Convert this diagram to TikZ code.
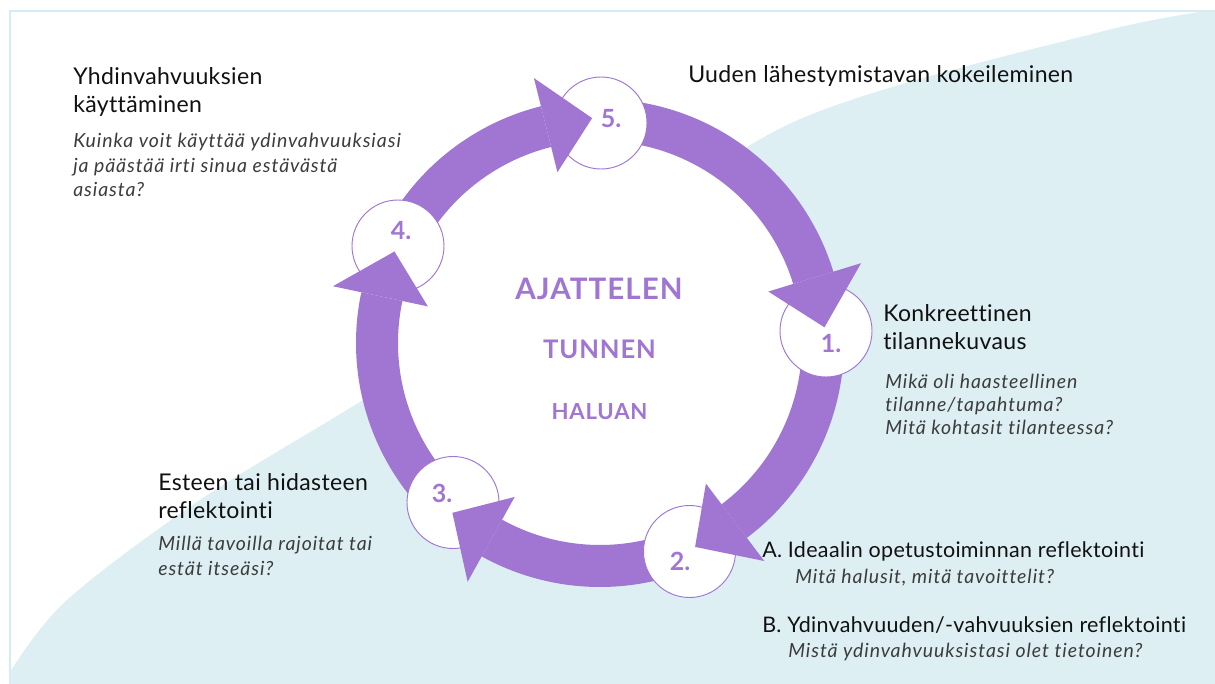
\documentclass[tikz,border=0pt]{standalone}
\usepackage{fontspec}
\setmainfont{Lato}[Ligatures={NoCommon}]
\newfontfamily\headfont{Lato}[LetterSpace=1.5, Ligatures={NoCommon}]
\newfontfamily\quesfont{Lato}[LetterSpace=4.8, Ligatures={NoCommon}]
\newfontfamily\capsfont{Lato}[LetterSpace=3.5, Ligatures={NoCommon}]
\usetikzlibrary{calc}
\definecolor{ringpurple}{RGB}{160,118,210}
\definecolor{bgblue}{RGB}{221,239,243}
\definecolor{framecol}{RGB}{214,236,244}
\definecolor{headcol}{RGB}{17,17,17}
\definecolor{quescol}{RGB}{60,60,60}

\tikzset{
  heading/.style={font=\headfont\fontsize{17.3}{20}\selectfont, text=headcol, anchor=base west, inner sep=0pt},
  itemline/.style={font=\headfont\fontsize{16.1}{18}\selectfont, text=headcol, anchor=base west, inner sep=0pt},
  question/.style={font=\quesfont\fontsize{14.6}{17}\selectfont\itshape, text=quescol, anchor=base west, inner sep=0pt},
  stage/.style={circle, draw=ringpurple, line width=0.7pt, fill=white, minimum size=69pt, inner sep=0pt},
  stagenum/.style={font=\fontsize{18.8}{20}\selectfont\bfseries, text=ringpurple, anchor=base, inner sep=0pt},
  feeling/.style={text=ringpurple, anchor=base, inner sep=0pt},
  band/.style={fill=ringpurple},
}

\begin{document}
\begin{tikzpicture}[x=0.75pt,y=-0.75pt]
  \useasboundingbox (0,0) rectangle (1215,684);
  \clip (0,0) rectangle (1215,684);

  % frame and background sweep
  \fill[white] (0,0) rectangle (1215,684);
  \fill[bgblue] plot[smooth, tension=0.55] coordinates
      {(10,672) (67,600) (200,500) (363,400) (600,252) (798,120) (1100,32) (1230,8)}
      -- (1230,700) -- (10,700) -- cycle;
  \draw[framecol, line width=1.6pt] (10,700) -- (10,11) -- (1230,11);

  % ring centre and inner disc
  \coordinate (C) at (600,343);
  \fill[white] (C) circle[radius=210];

  % arc bands of the cycle: start angle / tip angle / head base angle
  \foreach \s/\t/\b in {-90/-5/-17, -3/65/53, 67/131/119, 133/204/192, 206/268/256} {
    \fill[band] ($(C)+(\s:244)$) arc[start angle=\s, end angle=\b, radius=244]
      -- ($(C)+(\b:202)$) arc[start angle=\b, end angle=\s, radius=202] -- cycle;
  }

  % stage circles
  \node[stage] (s5) at (601,123) {};
  \node[stage] (s1) at (826,331) {};
  \node[stage] (s2) at (689.5,551.5) {};
  \node[stage] (s3) at (453,502.5) {};
  \node[stage] (s4) at (398,246) {};

  % arrow heads pointing into the next stage
  \foreach \t/\b in {-4/-17, 65/53, 131/119, 204/192, 268/256} {
    \fill[band] ($(C)+(\b:273)$) -- ($(C)+(\t:225)$) -- ($(C)+(\b:176)$) -- cycle;
  }

  % stage numbers
  \node[stagenum] (n5) at (611,128) {5.};
  \node[stagenum] (n1) at (831,353) {1.};
  \node[stagenum] (n2) at (680,570) {2.};
  \node[stagenum] (n3) at (442,503) {3.};
  \node[stagenum] (n4) at (401,240) {4.};

  % centre words
  \node[feeling, font=\capsfont\fontsize{22.2}{24}\selectfont\bfseries] (w1) at (599,300) {AJATTELEN};
  \node[feeling, font=\capsfont\fontsize{19.2}{20}\selectfont\bfseries] (w2) at (599.5,359) {TUNNEN};
  \node[feeling, font=\capsfont\fontsize{16.6}{18}\selectfont\bfseries] (w3) at (599.5,420) {HALUAN};

  % stage 5
  \node[heading] (h5) at (688,83) {Uuden lähestymistavan kokeileminen};

  % stage 4
  \node[heading] (h4a) at (73,85) {Yhdinvahvuuksien};
  \node[heading] (h4b) at (73,113) {käyttäminen};
  \node[question] (q4a) at (73,148) {Kuinka voit käyttää ydinvahvuuksiasi};
  \node[question] (q4b) at (73,173) {ja päästää irti sinua estävästä};
  \node[question] (q4c) at (73,197) {asiasta?};

  % stage 1
  \node[heading] (h1a) at (883,322) {Konkreettinen};
  \node[heading] (h1b) at (883,350) {tilannekuvaus};
  \node[question] (q1a) at (885,389) {Mikä oli haasteellinen};
  \node[question] (q1b) at (885,412) {tilanne/tapahtuma?};
  \node[question] (q1c) at (885,435) {Mitä kohtasit tilanteessa?};

  % stage 3
  \node[heading] (h3a) at (158,490) {Esteen tai hidasteen};
  \node[heading] (h3b) at (158,518) {reflektointi};
  \node[question] (q3a) at (158,550) {Millä tavoilla rajoitat tai};
  \node[question] (q3b) at (158,575) {estät itseäsi?};

  % stage 2
  \node[itemline] (h2a) at (762,557) {A. Ideaalin opetustoiminnan reflektointi};
  \node[question] (q2a) at (795,583) {Mitä halusit, mitä tavoittelit?};
  \node[itemline] (h2b) at (762,632) {B. Ydinvahvuuden/-vahvuuksien reflektointi};
  \node[question] (q2b) at (788,657) {Mistä ydinvahvuuksistasi olet tietoinen?};
\end{tikzpicture}
\end{document}
